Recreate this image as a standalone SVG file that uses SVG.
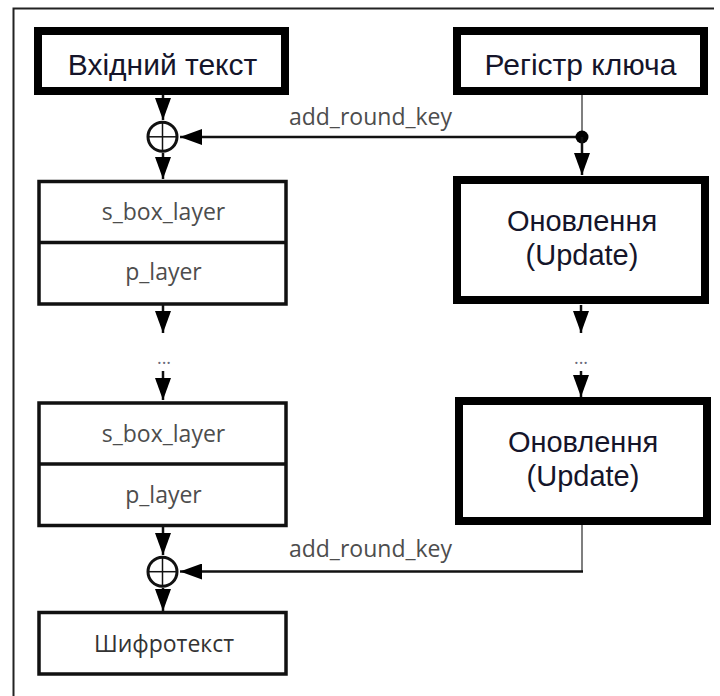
<svg xmlns="http://www.w3.org/2000/svg" width="720" height="696" viewBox="0 0 720 696">
  <style>
    .thick { fill: #ffffff; stroke: #000000; stroke-width: 8; }
    .thin { fill: #ffffff; stroke: #111111; stroke-width: 3.5; }
    .big { font-family: "Liberation Sans", Arial, sans-serif; font-size: 30px; fill: #15152a; text-anchor: middle; }
    .upd { font-family: "Liberation Sans", Arial, sans-serif; font-size: 29px; fill: #15152a; text-anchor: middle; }
    .lbl { font-family: "Open Sans", "DejaVu Sans", sans-serif; font-size: 23px; fill: #4d4d4d; text-anchor: middle; }
    .dark { fill: #333333; }
    .dots { font-family: "Open Sans", "DejaVu Sans", sans-serif; font-size: 18px; fill: #6a6a7a; text-anchor: middle; }
    .conn { fill: none; stroke: #111111; stroke-width: 2.5; }
    .key { fill: none; stroke: #555555; stroke-width: 1.5; }
    .frame { fill: none; stroke: #222222; stroke-width: 2; }
    .xor { fill: #ffffff; stroke: #111111; stroke-width: 3; }
    .cross { stroke: #111111; stroke-width: 1.5; }
  </style>
  <defs>
    <marker id="ah" markerUnits="userSpaceOnUse" markerWidth="22" markerHeight="16" refX="22" refY="8" orient="auto">
      <path d="M0,0 L22,8 L0,16 z" fill="#000000"/>
    </marker>
  </defs>
  <rect width="720" height="696" fill="#ffffff"/>
  <path class="frame" d="M13.5,696 L13.5,8.5 L714,8.5"/>

  <g id="connectors">
    <line class="conn" x1="163" y1="95" x2="163" y2="120" marker-end="url(#ah)"/>
    <line class="conn" x1="163" y1="153" x2="163" y2="179" marker-end="url(#ah)"/>
    <line class="key" x1="582" y1="95" x2="582" y2="137"/>
    <line class="conn" x1="582" y1="137" x2="180" y2="137" marker-end="url(#ah)"/>
    <circle cx="582" cy="137" r="6.5" fill="#000000"/>
    <line class="conn" x1="582" y1="137" x2="582" y2="175" marker-end="url(#ah)"/>
    <text class="lbl" x="370.5" y="125">add_round_key</text>

    <line class="conn" x1="163" y1="305" x2="163" y2="333" marker-end="url(#ah)"/>
    <text class="dots" x="164" y="364">...</text>
    <line class="conn" x1="163" y1="371" x2="163" y2="400" marker-end="url(#ah)"/>
    <line class="conn" x1="581" y1="305" x2="581" y2="333" marker-end="url(#ah)"/>
    <text class="dots" x="581" y="364">...</text>
    <line class="conn" x1="581" y1="371" x2="581" y2="397" marker-end="url(#ah)"/>

    <line class="conn" x1="163" y1="527" x2="163" y2="555" marker-end="url(#ah)"/>
    <line class="conn" x1="163" y1="588" x2="163" y2="611" marker-end="url(#ah)"/>
    <line class="key" x1="582" y1="525" x2="582" y2="571.5"/>
    <line class="conn" x1="583" y1="571.5" x2="180" y2="571.5" marker-end="url(#ah)"/>
    <text class="lbl" x="370.5" y="557">add_round_key</text>
  </g>

  <g id="xor1">
    <circle class="xor" cx="162.5" cy="136.8" r="14.5"/>
    <line class="cross" x1="148" y1="136.8" x2="177" y2="136.8"/>
    <line class="cross" x1="162.5" y1="122.3" x2="162.5" y2="151.3"/>
  </g>
  <g id="xor2">
    <circle class="xor" cx="162.5" cy="571.7" r="14.5"/>
    <line class="cross" x1="148" y1="571.7" x2="177" y2="571.7"/>
    <line class="cross" x1="162.5" y1="557.2" x2="162.5" y2="586.2"/>
  </g>

  <g id="plaintext">
    <rect class="thick" x="38" y="31" width="247" height="60"/>
    <text class="big" x="162.5" y="75">Вхідний текст</text>
  </g>
  <g id="keyreg">
    <rect class="thick" x="457" y="31" width="247" height="60"/>
    <text class="big" x="580.5" y="75">Регістр ключа</text>
  </g>

  <g id="round1">
    <rect class="thin" x="39" y="181.5" width="247" height="122.5"/>
    <line class="thin" x1="39" y1="242.5" x2="286" y2="242.5"/>
    <text class="lbl" x="163.5" y="220">s_box_layer</text>
    <text class="lbl" x="163.5" y="280">p_layer</text>
  </g>
  <g id="update1">
    <rect class="thick" x="457" y="180" width="248" height="120"/>
    <text class="upd" x="582" y="231">Оновлення</text>
    <text class="upd" x="582" y="265">(Update)</text>
  </g>

  <g id="round2">
    <rect class="thin" x="39" y="403" width="247" height="122.5"/>
    <line class="thin" x1="39" y1="464" x2="286" y2="464"/>
    <text class="lbl" x="163.5" y="441.5">s_box_layer</text>
    <text class="lbl" x="163.5" y="503">p_layer</text>
  </g>
  <g id="update2">
    <rect class="thick" x="459" y="401" width="248" height="120"/>
    <text class="upd" x="583" y="452">Оновлення</text>
    <text class="upd" x="583" y="486">(Update)</text>
  </g>

  <g id="ciphertext">
    <rect class="thin" x="39" y="612.5" width="247" height="61.5"/>
    <text class="lbl dark" x="164" y="651.5">Шифротекст</text>
  </g>
</svg>
